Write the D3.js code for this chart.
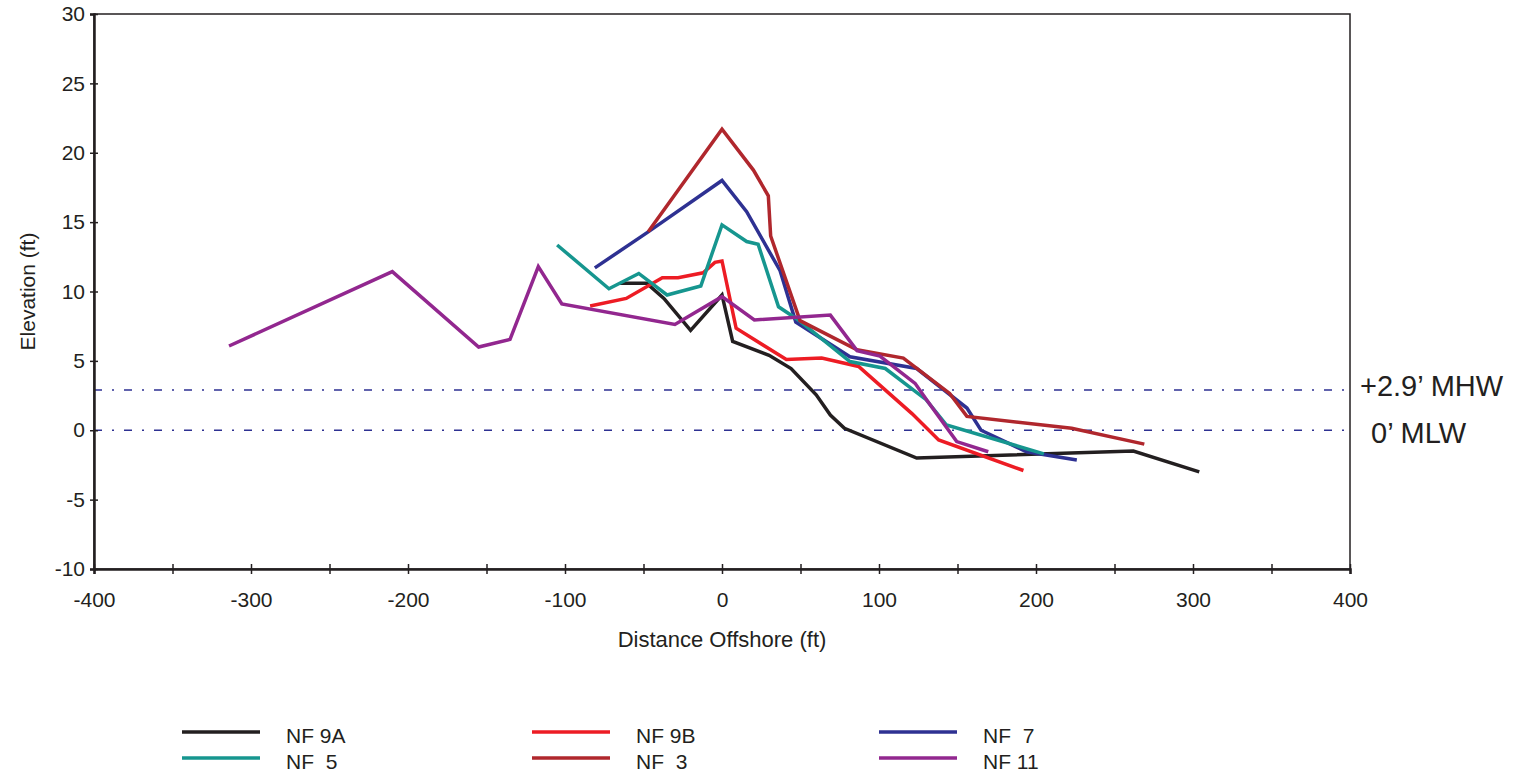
<!DOCTYPE html>
<html>
<head>
<meta charset="utf-8">
<script src="https://cdn.jsdelivr.net/npm/d3@7"></script>
<style>
  body { margin: 0; background: #fff; }
  svg text { font-family: "Liberation Sans", Arial, sans-serif; fill: #231f20; }
</style>
</head>
<body>
<div id="chart"></div>
<script>
var svgWidth = 1521;
var svgHeight = 777;

// profile data: [distance offshore (ft), elevation (ft)]
var nf9a = [[-65, 10.6], [-48, 10.6], [-37, 9.5], [-20, 7.2], [0, 9.75], [6.8, 6.4], [30, 5.4],
  [44, 4.45], [60, 2.55], [69, 1.1], [78, 0.14], [124, -2.0], [262, -1.5], [304, -3.0]];
var nf9b = [[-84, 8.95], [-61, 9.5], [-38, 11.0], [-28, 11.0], [-12, 11.35], [-4.5, 12.1], [0, 12.2],
  [9, 7.35], [41, 5.1], [63.5, 5.2], [87, 4.6], [121, 1.2], [138, -0.7], [192, -2.9]];
var nf7 = [[-81, 11.7], [-47, 14.3], [0, 18.0], [15.7, 15.75], [37, 11.5], [47, 7.8], [81.5, 5.3],
  [124, 4.45], [156, 1.6], [165, 0.0], [194, -1.55], [226, -2.15]];
var nf5 = [[-105, 13.35], [-72, 10.2], [-53, 11.3], [-35, 9.75], [-13.5, 10.4], [0, 14.8], [15.7, 13.6],
  [23, 13.4], [36, 8.9], [48.6, 7.95], [81.5, 4.95], [104, 4.45], [130, 2.2], [143, 0.38], [205, -1.7]];
var nf3 = [[-47, 14.3], [0, 21.7], [20, 18.75], [29.5, 16.9], [31, 14.0], [49.7, 7.9], [86, 5.8],
  [115.5, 5.2], [145, 2.65], [156, 1.0], [222.7, 0.14], [269, -1.0]];
var nf11 = [[-314, 6.07], [-210, 11.43], [-155, 6.0], [-135, 6.55], [-117, 11.8], [-102, 9.1],
  [-30, 7.63], [0, 9.63], [20.6, 7.95], [69, 8.3], [86, 5.74], [100.6, 5.35], [123, 3.38],
  [130.4, 2.18], [149.5, -0.82], [169.6, -1.55]];

var seriesNames = ["NF 9A", "NF 9B", "NF  7", "NF  5", "NF  3", "NF 11"];
var seriesData = [nf9a, nf9b, nf7, nf5, nf3, nf11];
var seriesColors = ["#231f20", "#ed1c24", "#2e3192", "#16968f", "#b0272d", "#92278f"];

// reference water levels
var tideLevels = [2.9, 0];
var tideLabels = ["+2.9\u2019 MHW", "0\u2019 MLW"];

var xTicks = d3.range(-400, 401, 50);
var xLabels = d3.range(-400, 401, 100);
var yTicks = d3.range(-10, 31, 5);

var svg = d3.select("#chart")
  .append("svg")
  .attr("width", svgWidth)
  .attr("height", svgHeight);

var xScale = d3.scaleLinear().domain([-400, 400]).range([94, 1350]);
var yScale = d3.scaleLinear().domain([-10, 30]).range([569, 14]);

// frame
svg.append("rect")
  .attr("x", xScale(-400))
  .attr("y", yScale(30))
  .attr("width", xScale(400) - xScale(-400))
  .attr("height", yScale(-10) - yScale(30))
  .attr("fill", "none")
  .attr("stroke", "#231f20")
  .attr("stroke-width", 1.5);

// tide lines
svg.selectAll(".tide")
  .data(tideLevels)
  .enter()
  .append("line")
  .attr("x1", xScale(-400))
  .attr("x2", xScale(400))
  .attr("y1", d => yScale(d))
  .attr("y2", d => yScale(d))
  .attr("stroke", "#2e3192")
  .attr("stroke-width", 1.4)
  .attr("stroke-dasharray", "8,10,2,10");

svg.selectAll(".tideLabel")
  .data(tideLabels)
  .enter()
  .append("text")
  .attr("x", (d, i) => i === 0 ? 1360 : 1371)
  .attr("y", (d, i) => yScale(tideLevels[i]) + (i === 0 ? 6 : 13))
  .attr("font-size", "29px")
  .text(d => d);

// x axis
var xAxis = d3.axisBottom(xScale)
  .tickValues(xTicks)
  .tickSize(5)
  .tickFormat(d => xLabels.indexOf(d) >= 0 ? String(d) : "");

var gx = svg.append("g")
  .attr("transform", `translate(0, ${yScale(-10)})`)
  .call(xAxis);
gx.select(".domain").attr("stroke", "#231f20").attr("stroke-width", 2.5);
gx.selectAll(".tick line").attr("stroke", "#231f20").attr("stroke-width", 1.5).attr("y1", -5);
gx.selectAll(".tick text").attr("font-size", "21px").attr("font-family", "Liberation Sans, Arial, sans-serif")
  .attr("fill", "#231f20").attr("y", 23).attr("dy", "0.71em");

// y axis
var yAxis = d3.axisLeft(yScale)
  .tickValues(yTicks)
  .tickSize(4)
  .tickFormat(d => String(d));

var gy = svg.append("g")
  .attr("transform", `translate(${xScale(-400)}, 0)`)
  .call(yAxis);
gy.select(".domain").attr("stroke", "#231f20").attr("stroke-width", 2.5);
gy.selectAll(".tick line").attr("stroke", "#231f20").attr("stroke-width", 1.5).attr("x2", 4).attr("x1", -4);
gy.selectAll(".tick text").attr("font-size", "21px").attr("font-family", "Liberation Sans, Arial, sans-serif")
  .attr("fill", "#231f20").attr("x", -9);

// axis titles
svg.append("text")
  .attr("x", (xScale(-400) + xScale(400)) / 2)
  .attr("y", 647)
  .attr("text-anchor", "middle")
  .attr("font-size", "22px")
  .text("Distance Offshore (ft)");

svg.append("text")
  .attr("transform", `translate(35, ${(yScale(-10) + yScale(30)) / 2}) rotate(-90)`)
  .attr("text-anchor", "middle")
  .attr("font-size", "21px")
  .text("Elevation (ft)");

// profiles
var line = d3.line()
  .x(d => xScale(d[0]))
  .y(d => yScale(d[1]));

svg.selectAll(".profile")
  .data(seriesData)
  .enter()
  .append("path")
  .attr("d", line)
  .attr("fill", "none")
  .attr("stroke", (d, i) => seriesColors[i])
  .attr("stroke-width", 3.5)
  .attr("stroke-linejoin", "miter");

// legend: 3 columns x 2 rows
var legendCols = [182, 532, 879];
var legendRows = [732, 758];
var legendOrder = [0, 3, 1, 4, 2, 5];

var legend = svg.selectAll(".legend")
  .data(legendOrder)
  .enter()
  .append("g")
  .attr("transform", (d, i) => `translate(${legendCols[Math.floor(i / 2)]}, ${legendRows[i % 2]})`);

legend.append("line")
  .attr("x1", 0)
  .attr("x2", 78)
  .attr("stroke", d => seriesColors[d])
  .attr("stroke-width", 3.5);

legend.append("text")
  .attr("x", 104)
  .attr("y", 11)
  .attr("font-size", "21px")
  .style("white-space", "pre")
  .text(d => seriesNames[d]);
</script>
</body>
</html>
